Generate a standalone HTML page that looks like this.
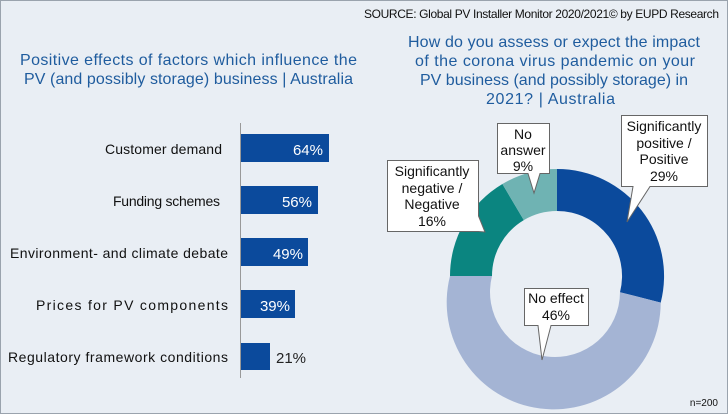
<!DOCTYPE html>
<html><head><meta charset="utf-8"><style>
body{margin:0;width:728px;height:414px;overflow:hidden;background:#fff;font-family:"Liberation Sans",sans-serif}
.frame{position:absolute;left:0;top:0;width:726px;height:412px;border:1px solid #9aa3ad;background:#e9eef4}
</style></head><body><div class="frame"></div>
<svg width="728" height="414" style="position:absolute;left:0;top:0" font-family="Liberation Sans, sans-serif">
<text x="364" y="18" textLength="355" font-size="12" fill="#111">SOURCE: Global PV Installer Monitor 2020/2021© by EUPD Research</text>
<g fill="#1f5c9e" font-size="16">
<text x="20" y="65" textLength="337">Positive effects of factors which influence the</text>
<text x="24" y="84" textLength="329">PV (and possibly storage) business | Australia</text>
<text x="408" y="47" textLength="292">How do you assess or expect the impact</text>
<text x="415" y="66" textLength="280">of the corona virus pandemic on your</text>
<text x="420" y="85" textLength="268">PV business (and possibly storage) in</text>
<text x="486" y="104" textLength="129">2021? | Australia</text>
</g>
<line x1="240.5" y1="123" x2="240.5" y2="378" stroke="#999" stroke-width="1"/>
<g fill="#0b4a9c">
<rect x="241" y="134" width="88" height="28"/>
<rect x="241" y="186" width="77" height="28"/>
<rect x="241" y="238" width="67" height="28"/>
<rect x="241" y="290" width="54" height="28"/>
<rect x="241" y="343" width="29" height="27"/>
</g>
<g font-size="15" fill="#fff" text-anchor="end">
<text x="323" y="155">64%</text><text x="312" y="207">56%</text><text x="303" y="259">49%</text><text x="290" y="311">39%</text>
</g>
<text x="276" y="363" font-size="15" fill="#222">21%</text>
<g font-size="14" fill="#111">
<text x="105" y="154" textLength="117">Customer demand</text>
<text x="113" y="206" textLength="107">Funding schemes</text>
<text x="10" y="258" textLength="218">Environment- and climate debate</text>
<text x="36" y="310" textLength="192">Prices for PV components</text>
<text x="8" y="362" textLength="220">Regulatory framework conditions</text>
</g>
<path d="M557,169 A107,107 0 0 1 660.7,302.6 L620,292.2 A65,65 0 0 0 557,211Z" fill="#0b4a9c"/>
<path d="M660.7,302.6 A107,107 0 1 1 450,276 L492,276 A65,65 0 1 0 620,292.2Z" fill="#a4b4d4"/>
<path d="M450,276 A107,107 0 0 1 502.4,184 L523.8,220.1 A65,65 0 0 0 492,276Z" fill="#0b8580"/>
<path d="M502.4,184 A107,107 0 0 1 557,169 L557,211 A65,65 0 0 0 523.8,220.1Z" fill="#6fb3b3"/>
<g fill="#fff" stroke="#666" stroke-width="1">
<path d="M621.5,115.5 H707.5 V186.5 H650 L627,222 L633,186.5 H621.5Z"/>
<path d="M497.5,123.5 H549.5 V173.5 H540 L534,193 L528,173.5 H497.5Z"/>
<path d="M387.5,160.5 H478.5 V216 L485,232 L478.5,231.5 H387.5Z"/>
<path d="M524.5,288.5 H588.5 V325.5 H551 L542,360 L538,325.5 H524.5Z"/>
</g>
<g font-size="14" fill="#111" text-anchor="middle">
<text x="664" y="131">Significantly</text><text x="664" y="148">positive /</text><text x="664" y="164">Positive</text><text x="664" y="181">29%</text>
<text x="523" y="139">No</text><text x="523" y="155">answer</text><text x="523" y="171">9%</text>
<text x="432" y="176">Significantly</text><text x="432" y="193">negative /</text><text x="432" y="209">Negative</text><text x="432" y="226">16%</text>
<text x="556" y="303">No effect</text><text x="556" y="320">46%</text>
</g>
<text x="718" y="406" text-anchor="end" font-size="10" fill="#111">n=200</text>
</svg>
</body></html>
